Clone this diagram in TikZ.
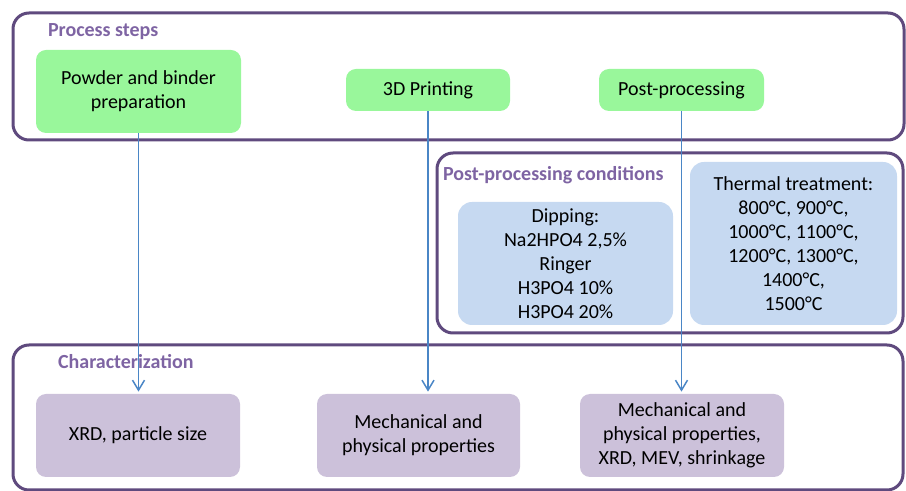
\documentclass[tikz,border=0pt]{standalone}
\usepackage{fontspec}
\setmainfont{Carlito}
\usetikzlibrary{arrows.meta,fit}

\definecolor{framepurple}{HTML}{5F4A7E}
\definecolor{titlepurple}{HTML}{7E64A3}
\definecolor{stepgreen}{HTML}{99F79B}
\definecolor{condblue}{HTML}{C6D9F1}
\definecolor{charlilac}{HTML}{CCC1DA}
\definecolor{linkblue}{HTML}{4A86C6}

\tikzset{
  frame/.style={draw=framepurple, line width=1.5pt, rounded corners=8pt, inner sep=0pt},
  title/.style={anchor=west, text=titlepurple, font=\bfseries},
  box/.style={rounded corners=5pt, align=center, inner sep=2pt},
  stepbox/.style={box, fill=stepgreen},
  condbox/.style={box, fill=condblue, rounded corners=7pt},
  charbox/.style={box, fill=charlilac},
  link/.style={draw=linkblue, line width=0.75pt, -{Straight Barb[length=5pt,width=6pt]}}
}

\begin{document}
\begin{tikzpicture}[x=0.5pt, y=-0.5pt]
  \useasboundingbox (0,0) rectangle (906,491);

  % frames
  \node[frame, fit={(13,13) (904,140)}] (steps) {};
  \node[frame, fit={(437,153) (903,333)}] (cond) {};
  \node[frame, fit={(13,345) (903,490)}] (char) {};

  \node[title] (stepstitle) at (41,32) {Process steps};
  \node[title] (condtitle) at (436,175) {Post-processing conditions};
  \node[title] (chartitle) at (51,362) {Characterization};

  % process steps
  \node[stepbox, minimum width=102.5pt, minimum height=41.5pt] (powder) at (138.5,91.5)
    {Powder and binder\\preparation};
  \node[stepbox, minimum width=82pt, minimum height=21pt] (printing) at (428,90) {3D Printing};
  \node[stepbox, minimum width=82.5pt, minimum height=21pt] (post) at (681.5,90) {Post-processing};

  % conditions
  \node[condbox, minimum width=107.5pt, minimum height=61.5pt] (dipping) at (565.5,263.5)
    {Dipping:\\Na2HPO4 2,5\%\\Ringer\\H3PO4 10\%\\H3PO4 20\%};
  \node[condbox, minimum width=103.5pt, minimum height=81.5pt] (thermal) at (793.5,243.5)
    {Thermal treatment:\\800°C, 900°C,\\1000°C, 1100°C,\\1200°C, 1300°C,\\1400°C,\\1500°C};

  % characterization
  \node[charbox, minimum width=102pt, minimum height=41.5pt] (xrd) at (138,435.5) {XRD, particle size};
  \node[charbox, minimum width=101.5pt, minimum height=41.5pt] (mech) at (418.5,435.5)
    {Mechanical and\\physical properties};
  \node[charbox, minimum width=102pt, minimum height=41.5pt] (mechxrd) at (682,435.5)
    {Mechanical and\\physical properties,\\XRD, MEV, shrinkage};

  % links
  \draw[link] (powder.south) -- ([yshift=1pt]powder.south |- xrd.north);
  \draw[link] (printing.south) -- ([yshift=1pt]printing.south |- mech.north);
  \draw[link] (post.south) -- ([yshift=1pt]post.south |- mechxrd.north);
\end{tikzpicture}
\end{document}
